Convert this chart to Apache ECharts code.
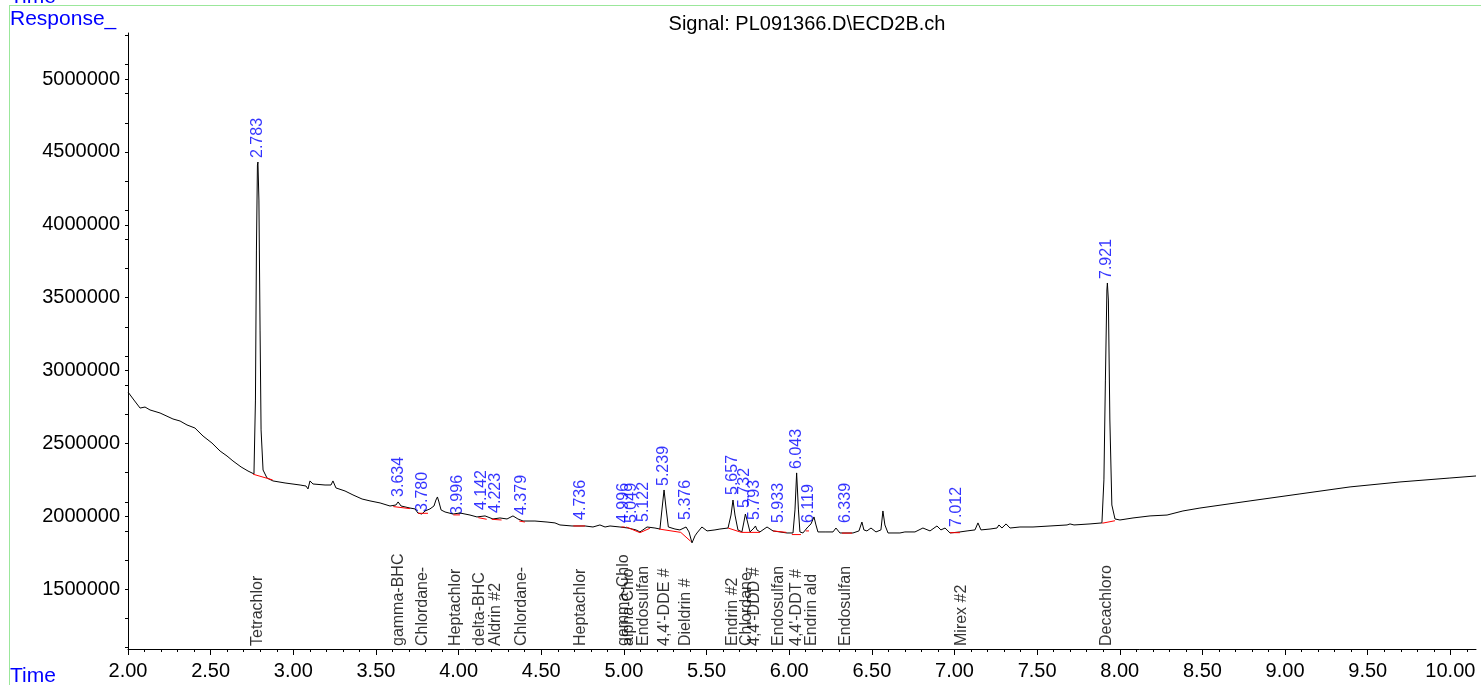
<!DOCTYPE html>
<html>
<head>
<meta charset="utf-8">
<title>Signal: PL091366.D\ECD2B.ch</title>
<script src="https://cdn.jsdelivr.net/npm/echarts@6/dist/echarts.min.js"></script>
<style>
  html, body { margin: 0; padding: 0; background: #fff; }
</style>
</head>
<body>
<div id="main" style="width: 1481px;height:685px;"></div>
<script type="text/javascript">
// retention time (min) and response of the traced signal
var sigTime = [
  2.000, 2.036, 2.073, 2.103, 2.133, 2.194, 2.272, 2.315, 2.357, 2.405, 2.454, 2.508, 2.557, 2.599, 2.635, 2.684, 2.726, 2.762,
  2.771, 2.777, 2.783, 2.786, 2.792, 2.799, 2.805, 2.817, 2.841, 2.877, 2.950, 3.041, 3.077, 3.089, 3.101, 3.119, 3.192, 3.228,
  3.240, 3.258, 3.313, 3.361, 3.416, 3.464, 3.525, 3.585, 3.621, 3.634, 3.652, 3.706, 3.736, 3.754, 3.778, 3.797, 3.827, 3.851,
  3.863, 3.872, 3.881, 3.894, 3.918, 3.966, 4.008, 4.069, 4.111, 4.160, 4.208, 4.250, 4.293, 4.329, 4.359, 4.390, 4.462, 4.535,
  4.583, 4.613, 4.686, 4.765, 4.813, 4.855, 4.886, 4.916, 4.976, 5.025, 5.073, 5.097, 5.115, 5.140, 5.188, 5.218, 5.230, 5.243,
  5.255, 5.269, 5.309, 5.339, 5.376, 5.394, 5.412, 5.430, 5.442, 5.472, 5.503, 5.551, 5.581, 5.630, 5.648, 5.660, 5.672, 5.690,
  5.714, 5.726, 5.735, 5.745, 5.763, 5.787, 5.796, 5.805, 5.823, 5.866, 5.902, 5.944, 5.987, 6.023, 6.035, 6.045, 6.056, 6.065,
  6.083, 6.113, 6.132, 6.150, 6.162, 6.174, 6.217, 6.265, 6.283, 6.307, 6.386, 6.422, 6.440, 6.452, 6.470, 6.495, 6.525, 6.555,
  6.567, 6.579, 6.598, 6.670, 6.700, 6.761, 6.809, 6.852, 6.894, 6.918, 6.943, 6.973, 7.033, 7.076, 7.124, 7.142, 7.160, 7.215,
  7.257, 7.269, 7.287, 7.312, 7.336, 7.396, 7.475, 7.578, 7.681, 7.699, 7.711, 7.723, 7.820, 7.892, 7.904, 7.913, 7.922, 7.925,
  7.931, 7.940, 7.952, 7.971, 8.001, 8.080, 8.183, 8.286, 8.382, 8.485, 8.788, 9.090, 9.393, 9.695, 9.997, 10.155
];
var sigResp = [
  2853000, 2798000, 2743000, 2750000, 2730000, 2709000, 2668000, 2654000, 2627000, 2606000, 2551000, 2503000, 2448000, 2414000, 2380000, 2339000, 2311000, 2291000,
  2798000, 3827000, 4410000, 4431000, 4170000, 3278000, 2593000, 2318000, 2263000, 2243000, 2229000, 2215000, 2208000, 2188000, 2243000, 2222000, 2215000, 2215000,
  2243000, 2195000, 2174000, 2147000, 2119000, 2106000, 2092000, 2071000, 2078000, 2099000, 2071000, 2057000, 2051000, 2023000, 2016000, 2037000, 2051000, 2071000,
  2112000, 2133000, 2099000, 2044000, 2030000, 2016000, 2023000, 2009000, 1996000, 2003000, 1982000, 1989000, 1982000, 2003000, 1982000, 1968000, 1968000, 1961000,
  1955000, 1941000, 1934000, 1934000, 1927000, 1941000, 1927000, 1934000, 1927000, 1920000, 1907000, 1893000, 1907000, 1927000, 1920000, 1913000, 2044000, 2181000,
  2057000, 1927000, 1913000, 1907000, 1927000, 1893000, 1818000, 1866000, 1886000, 1927000, 1900000, 1907000, 1913000, 1920000, 2009000, 2112000, 2009000, 1907000,
  1893000, 1961000, 2016000, 1975000, 1893000, 1920000, 1934000, 1907000, 1893000, 1927000, 1900000, 1893000, 1886000, 1886000, 2044000, 2298000, 2044000, 1893000,
  1886000, 1927000, 1948000, 1996000, 1941000, 1893000, 1893000, 1893000, 1920000, 1886000, 1886000, 1900000, 1961000, 1907000, 1900000, 1920000, 1893000, 1907000,
  2037000, 1941000, 1886000, 1886000, 1893000, 1893000, 1920000, 1900000, 1934000, 1907000, 1920000, 1886000, 1893000, 1900000, 1907000, 1955000, 1907000, 1913000,
  1920000, 1941000, 1920000, 1948000, 1920000, 1927000, 1927000, 1934000, 1941000, 1948000, 1961000, 1941000, 1948000, 1955000, 2250000, 2935000, 3553000, 3601000,
  3484000, 2661000, 2078000, 1982000, 1975000, 1989000, 2003000, 2009000, 2037000, 2057000, 2106000, 2154000, 2202000, 2236000, 2263000, 2277000
];

// integrated peaks: retention time label and apex response
var peakTimes = [2.783, 3.634, 3.780, 3.996, 4.142, 4.223, 4.379, 4.736, 4.996, 5.049, 5.122, 5.239, 5.376, 5.657, 5.732, 5.793, 5.933, 6.043, 6.119, 6.339, 7.012, 7.921];
var peakResp = [4431000, 2106000, 2003000, 1982000, 2016000, 1996000, 1982000, 1948000, 1927000, 1927000, 1934000, 2181000, 1948000, 2119000, 2030000, 1948000, 1927000, 2298000, 1927000, 1927000, 1900000, 3601000];

// compound names printed along the time axis
var compNames = ['Tetrachlor', 'gamma-BHC', 'Chlordane-', 'Heptachlor', 'delta-BHC', 'Aldrin #2', 'Chlordane-', 'Heptachlor', 'gamma-Chlo', 'alpha-Chlo', 'Endosulfan',
  "4,4'-DDE #", 'Dieldrin #', 'Endrin #2', 'Chlordane-', "4,4'-DDD #", 'Endosulfan', "4,4'-DDT #", 'Endrin ald', 'Endosulfan', 'Mirex #2', 'Decachloro'];
var compTimes = [2.783, 3.634, 3.780, 3.980, 4.130, 4.223, 4.379, 4.736, 4.996, 5.030, 5.122, 5.245, 5.376, 5.657, 5.745, 5.793, 5.933, 6.043, 6.133, 6.339, 7.045, 7.921];

// integration baselines: [start time, start resp, end time, end resp]
var baseLines = [
  [2.757, 2289000, 2.875, 2250000], [3.605, 2067000, 3.706, 2053000], [3.754, 2021000, 3.815, 2021000],
  [3.968, 2010000, 4.008, 2010000], [4.119, 1991000, 4.170, 1980000], [4.200, 1980000, 4.260, 1975000],
  [4.367, 1968000, 4.401, 1961000], [4.694, 1934000, 4.765, 1934000], [4.985, 1927000, 5.005, 1927000],
  [5.015, 1927000, 5.097, 1888000], [5.097, 1888000, 5.157, 1918000], [5.213, 1913000, 5.344, 1890000],
  [5.344, 1890000, 5.404, 1829000], [5.630, 1920000, 5.711, 1890000], [5.711, 1890000, 5.823, 1890000],
  [5.902, 1900000, 5.983, 1890000], [6.016, 1875000, 6.071, 1875000], [6.100, 1900000, 6.120, 1900000],
  [6.319, 1885000, 6.380, 1885000], [6.973, 1888000, 7.033, 1888000], [7.894, 1953000, 7.971, 1970000]
];

var xLabelVals = [2, 2.5, 3, 3.5, 4, 4.5, 5, 5.5, 6, 6.5, 7, 7.5, 8, 8.5, 9, 9.5, 10];
var yLabelVals = [1500000, 2000000, 2500000, 3000000, 3500000, 4000000, 4500000, 5000000];
var yTickVals = [1100000, 1300000, 1500000, 1700000, 1900000, 2000000, 2100000, 2300000, 2500000, 2700000, 2900000, 3000000, 3100000, 3300000,
  3500000, 3700000, 3900000, 4000000, 4100000, 4300000, 4500000, 4700000, 4900000, 5000000, 5100000, 5300000];
var xMinorVals = [];
for (var k = 20; k <= 101; k++) { if (k % 5 !== 0) xMinorVals.push(k / 10); }

var X_MIN = 2, X_MAX = 10.155, Y_MIN = 1090000, Y_MAX = 5316000;
var FONT = '"Liberation Sans", Arial, sans-serif';

var curve = [];
for (var i = 0; i < sigTime.length; i++) curve.push([sigTime[i], sigResp[i]]);

var baseData = [];
for (var j = 0; j < baseLines.length; j++) {
  baseData.push([baseLines[j][0], baseLines[j][1]]);
  baseData.push([baseLines[j][2], baseLines[j][3]]);
  baseData.push([null, null]);
}

var peakData = [];
for (var p = 0; p < peakTimes.length; p++) peakData.push({ value: [peakTimes[p], peakResp[p]], name: peakTimes[p].toFixed(3) });

var compData = [];
for (var c = 0; c < compNames.length; c++) compData.push({ value: [compTimes[c], Y_MIN], name: compNames[c] });

var myChart = echarts.init(document.getElementById('main'));
var option = {
  animation: false,
  backgroundColor: '#fff',
  textStyle: { fontFamily: FONT },
  title: {
    text: 'Signal: PL091366.D\\ECD2B.ch',
    left: 802, top: 9, textAlign: 'center',
    textStyle: { fontFamily: FONT, fontSize: 20, fontWeight: 'normal', color: '#000' }
  },
  graphic: [
    { type: 'line', shape: { x1: 9, y1: 5.5, x2: 1481, y2: 5.5 }, style: { stroke: '#9be79b', lineWidth: 1 } },
    { type: 'line', shape: { x1: 9.5, y1: 5, x2: 9.5, y2: 685 }, style: { stroke: '#9be79b', lineWidth: 1 } },
    { type: 'text', left: 10, top: -13, style: { text: 'Time', fill: '#0000ff', font: '21px ' + FONT } },
    { type: 'text', left: 10, top: 9, style: { text: 'Response_', fill: '#0000ff', font: '21px ' + FONT } },
    { type: 'text', left: 10, top: 666, style: { text: 'Time', fill: '#0000ff', font: '21px ' + FONT } }
  ],
  grid: { left: 128, right: 5, top: 33, bottom: 36, containLabel: false },
  xAxis: [{
    type: 'value', min: X_MIN, max: X_MAX,
    axisLine: { show: true, lineStyle: { color: '#000', width: 1 } },
    axisTick: { show: true, length: 6, customValues: xLabelVals, lineStyle: { color: '#000' } },
    axisLabel: { customValues: xLabelVals, margin: 12, color: '#000', fontSize: 20, fontFamily: FONT,
      formatter: function (v) { return v.toFixed(2); } },
    splitLine: { show: false }
  }, {
    type: 'value', min: X_MIN, max: X_MAX, position: 'bottom',
    axisLine: { show: false },
    axisTick: { show: true, length: 3, customValues: xMinorVals, lineStyle: { color: '#000' } },
    axisLabel: { show: false },
    splitLine: { show: false }
  }],
  yAxis: {
    type: 'value', min: Y_MIN, max: Y_MAX,
    axisLine: { show: true, lineStyle: { color: '#000', width: 1 } },
    axisTick: { show: true, length: 3, customValues: yTickVals, lineStyle: { color: '#000' } },
    axisLabel: { customValues: yLabelVals, margin: 8, color: '#000', fontSize: 20, fontFamily: FONT,
      formatter: function (v) { return String(v); } },
    splitLine: { show: false }
  },
  series: [
    {
      type: 'scatter', data: compData, symbolSize: 0, silent: true,
      label: { show: true, position: 'top', distance: 3, rotate: 90, align: 'left', verticalAlign: 'middle',
        formatter: '{b}', color: '#000', fontSize: 16, fontFamily: FONT }
    },
    {
      type: 'line', data: curve, showSymbol: false, symbol: 'none', silent: true,
      lineStyle: { color: '#000', width: 1 }
    },
    {
      type: 'line', data: baseData, showSymbol: false, symbol: 'none', connectNulls: false, silent: true,
      lineStyle: { color: '#ff0000', width: 1 }
    },
    {
      type: 'scatter', data: peakData, symbolSize: 0, silent: true,
      label: { show: true, position: 'top', distance: 4, rotate: 90, align: 'left', verticalAlign: 'middle',
        formatter: '{b}', color: '#0000ff', fontSize: 16, fontFamily: FONT }
    }
  ]
};
myChart.setOption(option);
window.onresize = function () {
  myChart.resize();
};
</script>
</body>
</html>
